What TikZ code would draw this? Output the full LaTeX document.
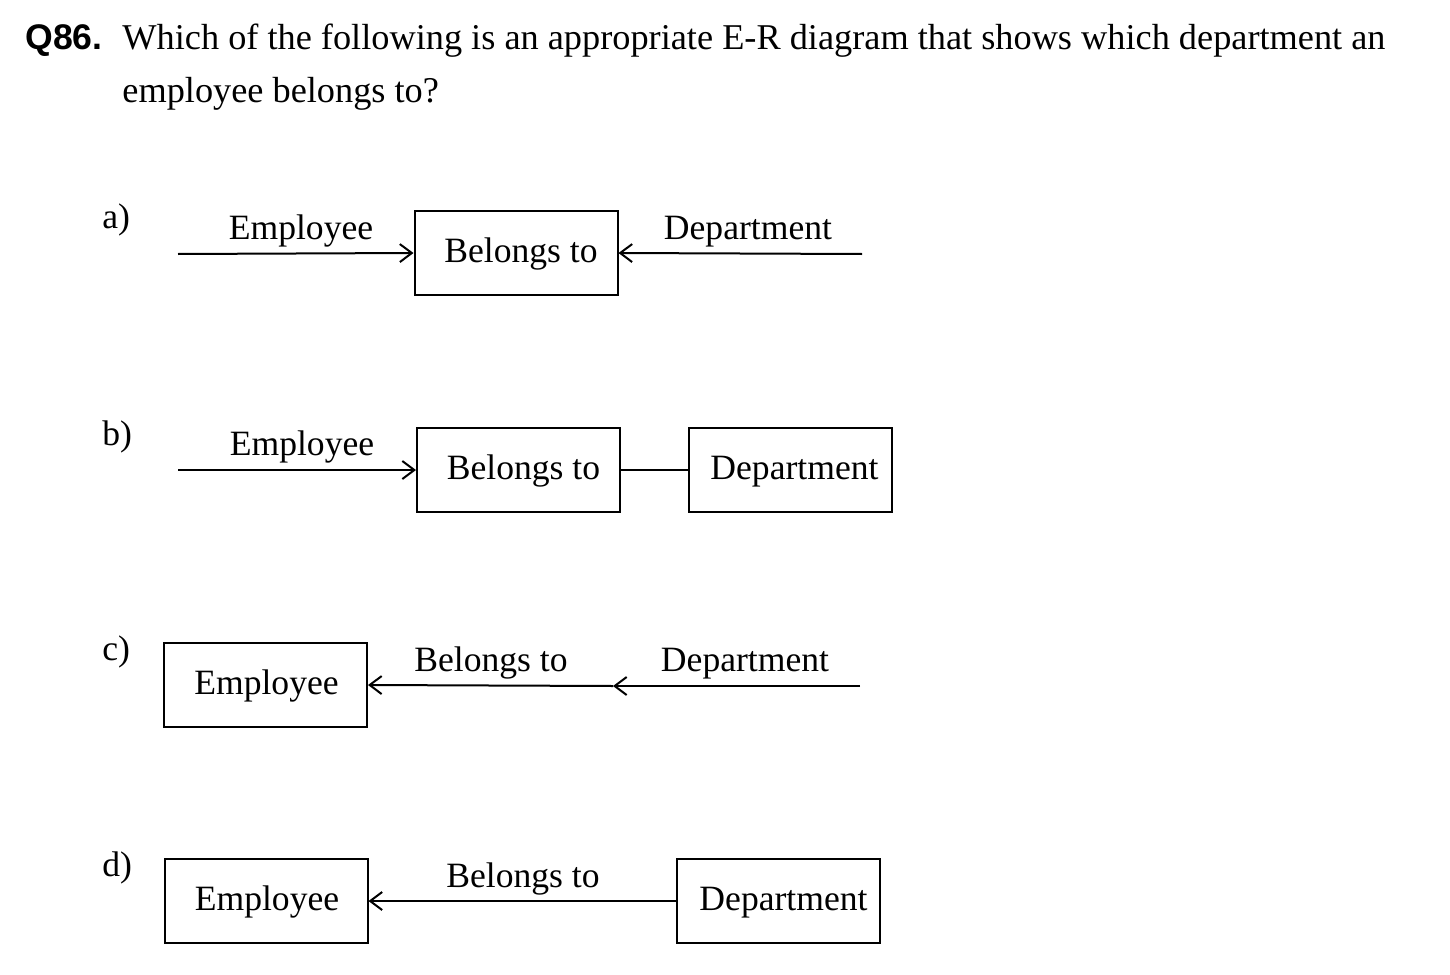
\documentclass[tikz,border=0pt]{standalone}
\usepackage{fontspec}
\setmainfont{Liberation Serif}
\newfontfamily\qsans{Liberation Sans}
\usetikzlibrary{arrows.meta}
\newcommand{\bxt}[2]{\hspace{#1}#2}
\begin{document}
\begin{tikzpicture}[x=0.5pt,y=-0.5pt,
  every node/.style={font=\fontsize{17.8}{21}\selectfont, inner sep=0pt},
  box/.style={draw, line width=1pt, minimum width=101.5pt, minimum height=42pt, text height=12pt, text depth=3pt},
  conn/.style={line width=1pt},
  arr/.style={conn, -{Straight Barb[length=6pt,width=9pt,line width=1pt]}},
  lbl/.style={anchor=base},
  ttl/.style={anchor=base west, font=\fontsize{18.15}{21}\selectfont}]
\useasboundingbox (0,0) rectangle (1450,974);
% title
\node[anchor=base west, font=\fontsize{17.8}{21}\qsans\bfseries] (q) at (25,50) {Q86.};
\node[ttl] (t1) at (122,50) {Which of the following is an appropriate E-R diagram that shows which department an};
\node[ttl] (t2) at (122,103) {employee belongs to?};
% a)
\node[anchor=base west] (la) at (102,228) {a)};
\node[box] (ab) at (516,253) {\bxt{5pt}{Belongs to}};
\coordinate (a1) at (178,254);
\coordinate (a2) at (862,254);
\draw[arr] (a1) -- (ab.west);
\draw[arr] (a2) -- (ab.east);
\node[lbl] (ae) at (301,239) {Employee};
\node[lbl] (ad) at (748,239) {Department};
% b)
\node[anchor=base west] (lb) at (102,445) {b)};
\node[box] (bb) at (518.5,470) {\bxt{5pt}{Belongs to}};
\node[box] (bd) at (790.5,470) {\bxt{4pt}{Department}};
\coordinate (b1) at (178,470);
\draw[arr] (b1) -- (bb.west);
\draw[conn] (bb.east) -- (bd.west);
\node[lbl] (be) at (302,455) {Employee};
% c)
\node[anchor=base west] (lc) at (102,660) {c)};
\node[box] (ce) at (265.5,685) {\bxt{1pt}{Employee}};
\coordinate (c1) at (860,686);
\coordinate (cm) at (613,686);
\draw[arr] (c1) -- (cm);
\draw[arr] (cm) -- (ce.east);
\node[lbl] (cb) at (491,671) {Belongs to};
\node[lbl] (cd) at (745,671) {Department};
% d)
\node[anchor=base west] (ld) at (102,876) {d)};
\node[box] (de) at (266,901) {\bxt{1pt}{Employee}};
\node[box] (dd) at (778.5,901) {\bxt{5pt}{Department}};
\draw[arr] (dd.west) -- (de.east);
\node[lbl] (db) at (523,887) {Belongs to};
\end{tikzpicture}
\end{document}
